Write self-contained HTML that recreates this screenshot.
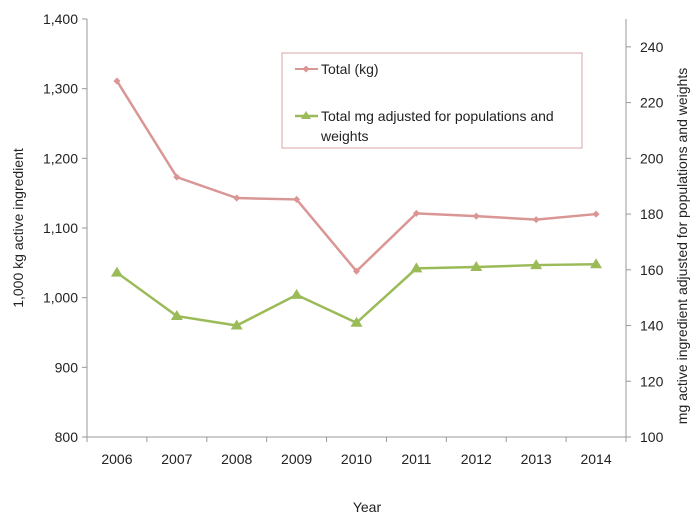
<!DOCTYPE html>
<html><head><meta charset="utf-8"><style>
body{margin:0;background:#fff}
svg text{font-family:"Liberation Sans",sans-serif;fill:#222}
</style></head><body>
<svg id="chart" width="700" height="521" xmlns="http://www.w3.org/2000/svg">
<g id="axes"></g><g id="series"></g>
<g>
<rect x="282" y="53" width="300" height="95" fill="#fff" stroke="#d9a5a4" stroke-width="1"/>
<line x1="295" y1="69" x2="318" y2="69" stroke="#d99694" stroke-width="2"/>
<rect x="303.5" y="66.5" width="5" height="5" fill="#d99694" transform="rotate(45 306 69)"/>
<text x="321" y="74" font-size="14">Total (kg)</text>
<line x1="295" y1="116" x2="318" y2="116" stroke="#9bbb59" stroke-width="2.5"/>
<polygon points="306,111 311,119 301,119" fill="#9bbb59"/>
<text x="321" y="121" font-size="14">Total mg adjusted for populations and</text>
<text x="321" y="141" font-size="14">weights</text>
</g>
<text x="367" y="512" font-size="14" text-anchor="middle">Year</text>
<text transform="translate(23,228) rotate(-90)" font-size="14" text-anchor="middle">1,000 kg active ingredient</text>
<text transform="translate(687,246) rotate(-90)" font-size="14" text-anchor="middle">mg active ingredient adjusted for populations and weights</text>
</svg>
<script>
const categories=["2006","2007","2008","2009","2010","2011","2012","2013","2014"];
const totalKg=[1311,1173,1143,1141,1038,1121,1117,1112,1120];
const totalMg=[159,143.4,140,151,141,160.5,161,161.7,162];
const leftTicks=[800,900,1000,1100,1200,1300,1400];
const leftTickLabels=["800","900","1,000","1,100","1,200","1,300","1,400"];
const rightTicks=[100,120,140,160,180,200,220,240];

const NS="http://www.w3.org/2000/svg";
const X0=87,X1=626,YT=19,YB=437;
const bw=(X1-X0)/categories.length;
const xc=i=>X0+bw*(i+0.5);
const yl=v=>YB-(v-800)/600*(YB-YT);
const yr=v=>YB-(v-100)/150*(YB-YT);
function mk(tag,attrs,parent){const e=document.createElementNS(NS,tag);for(const k in attrs)e.setAttribute(k,attrs[k]);parent.appendChild(e);return e;}
const ax=document.getElementById('axes'),se=document.getElementById('series');
let e;
e=mk('line',{x1:X0,y1:YT,x2:X0,y2:YB,stroke:'#999'},ax);


e=mk('line',{x1:X1,y1:YT,x2:X1,y2:YB,stroke:'#999'},ax);


e=mk('line',{x1:X0,y1:YB,x2:X1,y2:YB,stroke:'#999'},ax);


leftTicks.forEach((v,i)=>{
 mk('line',{x1:X0-5,y1:yl(v),x2:X0,y2:yl(v),stroke:'#999'},ax);
 e=mk('text',{x:X0-9,y:yl(v)+5,'font-size':14,'text-anchor':'end'},ax);e.textContent=leftTickLabels[i];
 
 
});
rightTicks.forEach(v=>{
 mk('line',{x1:X1,y1:yr(v),x2:X1+5,y2:yr(v),stroke:'#999'},ax);
 e=mk('text',{x:X1+14,y:yr(v)+5,'font-size':14},ax);e.textContent=v;
 
 
});
for(let i=0;i<=categories.length;i++)mk('line',{x1:X0+bw*i,y1:YB,x2:X0+bw*i,y2:YB+5,stroke:'#999'},ax);
categories.forEach((c,i)=>{
 e=mk('text',{x:xc(i),y:464,'font-size':14,'text-anchor':'middle'},ax);e.textContent=c;
 
 
});
e=mk('polyline',{points:totalKg.map((v,i)=>xc(i)+','+yl(v)).join(' '),fill:'none',stroke:'#d99694','stroke-width':2.5},se);


totalKg.forEach((v,i)=>{
 e=mk('rect',{x:xc(i)-2.5,y:yl(v)-2.5,width:5,height:5,fill:'#d99694',transform:`rotate(45 ${xc(i)} ${yl(v)})`},se);
 
 
});
e=mk('polyline',{points:totalMg.map((v,i)=>xc(i)+','+yr(v)).join(' '),fill:'none',stroke:'#9bbb59','stroke-width':2.5},se);


totalMg.forEach((v,i)=>{
 const x=xc(i),y=yr(v);
 e=mk('polygon',{points:`${x},${y-6} ${x+6},${y+4} ${x-6},${y+4}`,fill:'#9bbb59'},se);
 
 
});
</script>
</body></html>
